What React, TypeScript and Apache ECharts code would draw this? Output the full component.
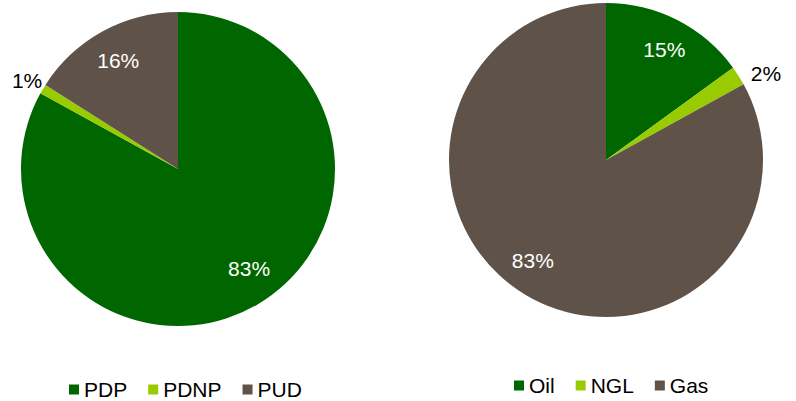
import React, { useEffect, useRef } from "react";
import * as echarts from "echarts";

// Reserves by category
const reserveNames = ["PDP", "PDNP", "PUD"];
const reserveValues = [83, 1, 16];

// Production by product
const productNames = ["Oil", "NGL", "Gas"];
const productValues = [15, 2, 83];

const sliceColors = ["#006600", "#99CC00", "#5F5249"];
const FONT = "Liberation Sans, Arial, sans-serif";
const FONT_SIZE = 21;

// Small label nudges (px) applied on top of the ring-based placement
const labelNudge: Record<string, [number, number]> = {
  PDP: [8, -7],
  PDNP: [4, 3],
  Oil: [2, 0],
  NGL: [8, 10],
  Gas: [-10, -6],
};

type Slice = { name: string; value: number };

function toSlices(names: string[], values: number[]): Slice[] {
  return names.map((name, i) => ({ name, value: values[i] }));
}

// Builds the visible pie plus two transparent rings that only carry labels:
// an inner ring for large slices (white text) and an outer ring for small ones.
function pieSeries(id: string, slices: Slice[], center: [number, number], radius: number, smallCut: number) {
  const base = {
    type: "pie" as const,
    center,
    startAngle: 90,
    clockwise: true,
    animation: false,
  };
  const labelFor = (s: Slice, show: boolean, color: string) => ({
    show,
    position: "inside",
    formatter: "{c}%",
    color,
    fontSize: FONT_SIZE,
    fontFamily: FONT,
    offset: labelNudge[s.name] || [0, 0],
  });
  return [
    {
      ...base,
      id: id + "-pie",
      name: id,
      radius: [0, radius],
      label: { show: false },
      labelLine: { show: false },
      itemStyle: { borderWidth: 0 },
      emphasis: { disabled: true },
      data: slices.map((s, i) => ({ ...s, itemStyle: { color: sliceColors[i] } })),
    },
    {
      ...base,
      id: id + "-inner",
      radius: [radius - 72, radius],
      silent: true,
      legendHoverLink: false,
      itemStyle: { color: "transparent", borderWidth: 0 },
      labelLine: { show: false },
      emphasis: { disabled: true },
      data: slices.map((s) => ({ ...s, label: labelFor(s, s.value >= smallCut, "#ffffff") })),
    },
    {
      ...base,
      id: id + "-outer",
      radius: [radius, radius + 40],
      silent: true,
      legendHoverLink: false,
      itemStyle: { color: "transparent", borderWidth: 0 },
      labelLine: { show: false },
      emphasis: { disabled: true },
      data: slices.map((s) => ({ ...s, label: labelFor(s, s.value < smallCut, "#000000") })),
    },
  ];
}

export default function App() {
  const ref = useRef<HTMLDivElement>(null);

  useEffect(() => {
    if (!ref.current) return;
    const chart = echarts.init(ref.current, null, { renderer: "svg" });
    const legendText = { fontSize: FONT_SIZE, fontFamily: FONT, color: "#000000", lineHeight: 18 };
    chart.setOption({
      animation: false,
      backgroundColor: "#ffffff",
      legend: [
        {
          data: reserveNames,
          left: 69,
          top: 379,
          padding: 0,
          icon: "rect",
          itemWidth: 10,
          itemHeight: 10,
          itemGap: 21,
          textStyle: legendText,
          selectedMode: false,
        },
        {
          data: productNames,
          left: 514,
          top: 375,
          padding: 0,
          icon: "rect",
          itemWidth: 10,
          itemHeight: 10,
          itemGap: 21,
          textStyle: legendText,
          selectedMode: false,
        },
      ],
      series: [
        ...pieSeries("reserves", toSlices(reserveNames, reserveValues), [178, 169], 157, 5),
        ...pieSeries("products", toSlices(productNames, productValues), [606, 160], 157, 5),
      ],
    });
    return () => chart.dispose();
  }, []);

  return (
    <div
      ref={ref}
      style={{ position: "fixed", left: 0, top: 0, width: 796, height: 401 }}
    />
  );
}
